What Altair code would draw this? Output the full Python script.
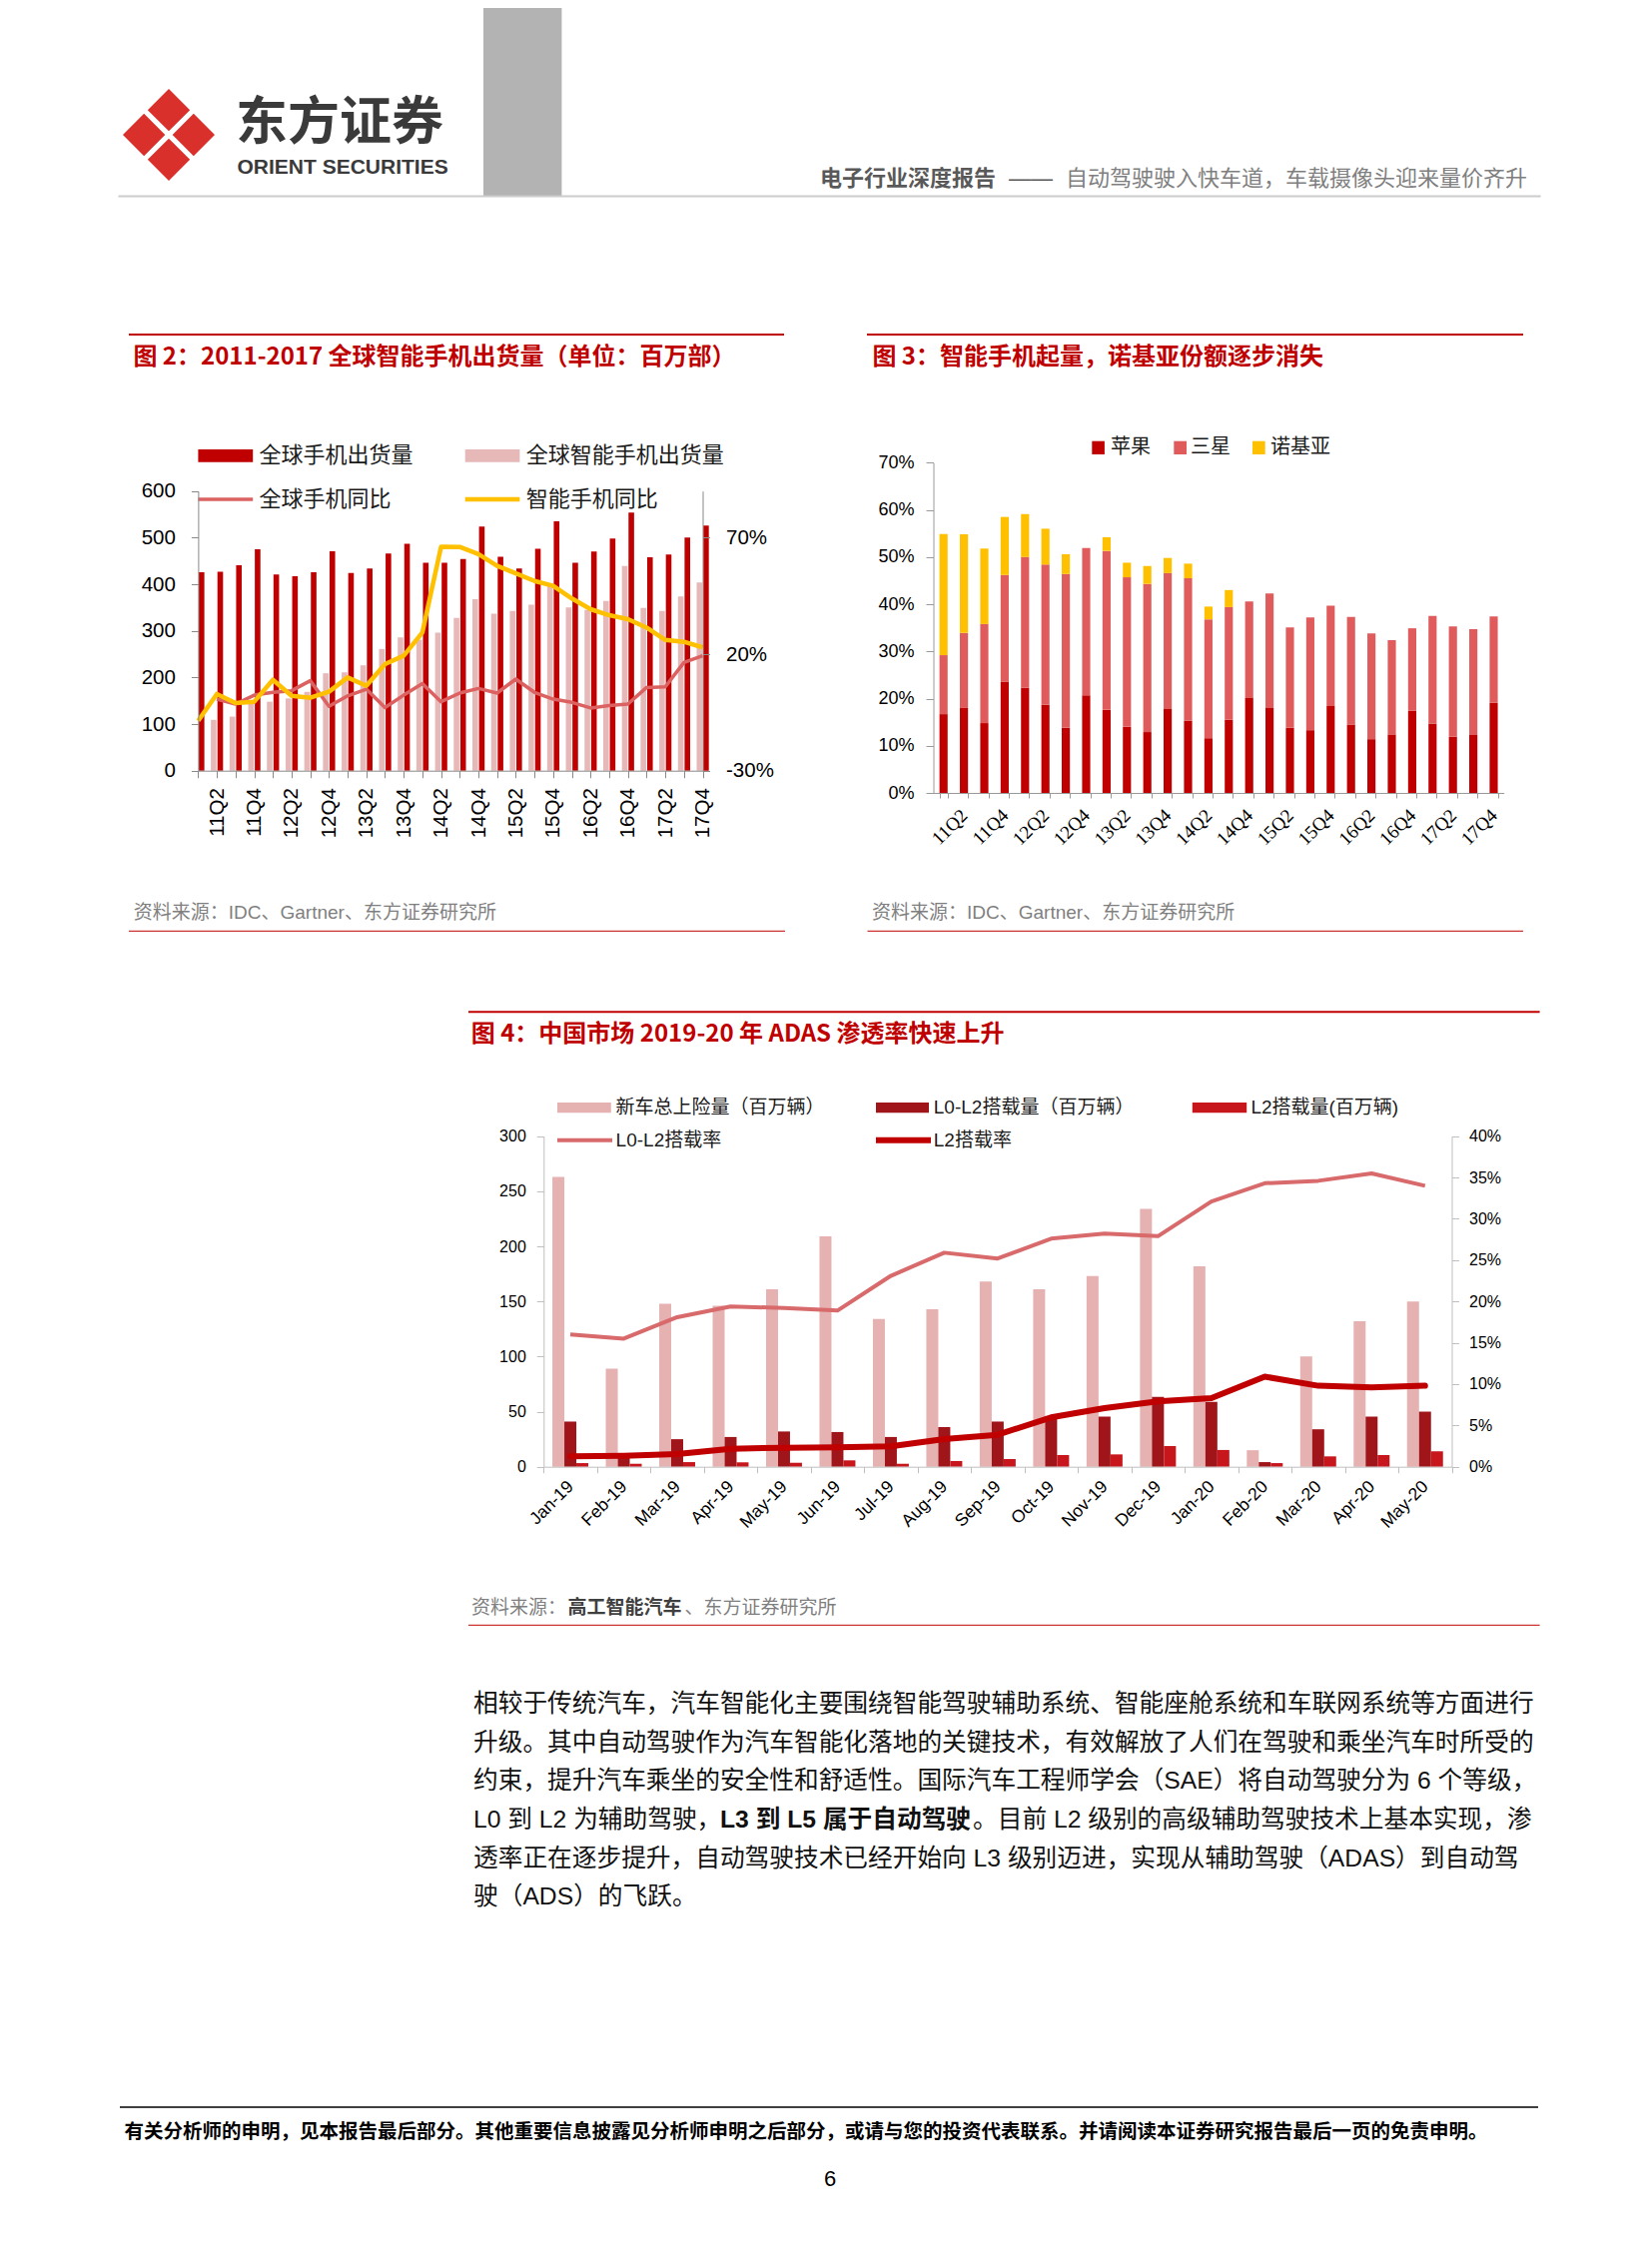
import altair as alt
import pandas as pd

W, H = 1600, 2200
PAGE = 8

def px(v):
    return v - PAGE

CJK = "Noto Sans CJK SC"
SANS = "Liberation Sans, Arial, Noto Sans CJK SC, sans-serif"
SERIF = "Liberation Serif, Times New Roman, Noto Sans CJK SC, serif"
RED = "#C00000"

# ---------------- data: figure 2 ----------------
quarters = ["11Q1", "11Q2", "11Q3", "11Q4", "12Q1", "12Q2", "12Q3", "12Q4",
            "13Q1", "13Q2", "13Q3", "13Q4", "14Q1", "14Q2", "14Q3", "14Q4",
            "15Q1", "15Q2", "15Q3", "15Q4", "16Q1", "16Q2", "16Q3", "16Q4",
            "17Q1", "17Q2", "17Q3", "17Q4"]
phone_ship = [426, 427, 441, 475, 421, 417, 426, 471, 424, 434, 466, 487, 446, 446,
              454, 524, 459, 434, 476, 535, 446, 470, 498, 554, 458, 464, 500, 526]
smart_ship = [None, 109, 116, 143, 148, 155, 169, 209, 211, 226, 261, 286, 281, 296,
              328, 368, 337, 343, 356, 398, 350, 345, 364, 439, 349, 343, 374, 404]
phone_yoy = [None, 0.7, -1.4, 2.4, 3.6, 4.3, 8.6, -2.4, 2.1, 5.0, -2.9, 2.4, 7.4, -0.4,
             3.3, 5.3, 3.3, 9.3, 3.6, 0.7, -0.7, -3.1, -2.1, -1.4, 5.7, 6.0, 16.4, 19.3]
smart_yoy = [-8.6, 2.9, -1.0, -0.4, 9.0, 2.1, 1.3, 3.9, 10.0, 6.4, 15.7, 19.3, 29.3, 66.1,
             66.0, 62.9, 57.9, 54.7, 51.4, 49.3, 43.9, 39.3, 36.7, 35.0, 31.4, 26.1, 25.3, 22.9]

# ---------------- data: figure 3 ----------------
brands = ["苹果", "三星", "诺基亚"]
apple = [16.7, 18.0, 14.8, 23.6, 22.3, 18.7, 13.8, 20.7, 17.6, 14.0, 12.9, 17.8, 15.3, 11.6,
         15.5, 20.1, 18.0, 13.8, 13.3, 18.4, 14.5, 11.4, 12.4, 17.4, 14.7, 11.9, 12.3, 19.1]
samsung = [12.5, 15.9, 21.0, 22.6, 27.7, 29.7, 32.6, 31.2, 33.7, 31.7, 31.4, 28.8, 30.2, 25.2,
           23.9, 20.5, 24.3, 21.3, 23.9, 21.3, 22.8, 22.4, 20.0, 17.5, 22.8, 23.4, 22.4, 18.3]
nokia = [25.7, 20.9, 16.0, 12.3, 9.1, 7.6, 4.2, 0, 2.9, 3.1, 3.8, 3.2, 3.1, 2.7,
         3.6, 0, 0, 0, 0, 0, 0, 0, 0, 0, 0, 0, 0, 0]

# ---------------- data: figure 4 ----------------
months = ["Jan-19", "Feb-19", "Mar-19", "Apr-19", "May-19", "Jun-19", "Jul-19", "Aug-19",
          "Sep-19", "Oct-19", "Nov-19", "Dec-19", "Jan-20", "Feb-20", "Mar-20", "Apr-20", "May-20"]
series4 = ["新车总上险量", "L0-L2搭载量", "L2搭载量"]
new_cars = [263, 89, 148, 146, 161, 209, 134, 143, 168, 161, 173, 234, 182, 15, 100, 132, 150]
l0l2_units = [41, 12, 25, 27, 32, 31.5, 27, 36, 41, 46, 45.5, 63.5, 58.8, 4.2, 34, 45.5, 50]
l2_units = [3.3, 2.7, 4.2, 4.0, 3.6, 5.8, 2.7, 5.2, 7.0, 10.6, 11.2, 18.8, 15.2, 3.3, 9.4, 10.6, 14.0]
l0l2_rate = [16.0, 15.5, 18.1, 19.4, 19.2, 18.9, 23.1, 25.9, 25.2, 27.6, 28.2, 27.9, 32.1,
             34.3, 34.6, 35.5, 34.0]
l2_rate = [1.26, 1.33, 1.53, 2.18, 2.3, 2.34, 2.46, 3.35, 3.87, 5.97, 7.1, 7.9, 8.3,
           10.9, 9.8, 9.6, 9.8]

# ---------------- helpers ----------------
BLANK = alt.Data(values=[{"v": 0}])


def text(s, x, y, size, color="#000000", weight="normal", align="left", font=CJK,
         baseline="middle"):
    return alt.Chart(BLANK).mark_text(
        text=s, align=align, baseline=baseline, fontSize=size, font=font,
        fontWeight=weight, color=color
    ).encode(x=alt.value(px(x)), y=alt.value(px(y)))


def rect(x1, x2, y1, y2, color):
    return alt.Chart(BLANK).mark_rect(color=color).encode(
        x=alt.value(px(x1)), x2=alt.value(px(x2)), y=alt.value(px(y1)), y2=alt.value(px(y2)))


def hline(x1, x2, y, color, w):
    return alt.Chart(BLANK).mark_rule(color=color, strokeWidth=w).encode(
        x=alt.value(px(x1)), x2=alt.value(px(x2)), y=alt.value(px(y)))


def axis(orient, pos, **kw):
    if orient == "left":
        off = -px(pos)
    elif orient == "right":
        off = px(pos) - W
    else:
        off = px(pos) - H
    base = dict(orient=orient, offset=off, title=None, grid=False, zindex=1,
                labelOverlap=False, labelFlush=False, domainColor="#898989",
                tickColor="#898989", labelColor="#000000", labelFont=SANS)
    base.update(kw)
    return alt.Axis(**base)


QLABEL = "(indexof(datum.label, 'Q2') >= 0 || indexof(datum.label, 'Q4') >= 0) ? datum.label : ''"

# ---------------- page decoration ----------------
logo_path = ("M0,-1 L0.46,-0.54 L0,-0.08 L-0.46,-0.54 Z "
             "M0.54,-0.46 L1,0 L0.54,0.46 L0.08,0 Z "
             "M0,1 L0.46,0.54 L0,0.08 L-0.46,0.54 Z "
             "M-0.54,-0.46 L-0.08,0 L-0.54,0.46 L-1,0 Z")
logo = alt.Chart(BLANK).mark_point(shape=logo_path, filled=True, size=8464, color="#D9302C",
                                   opacity=1, strokeWidth=0).encode(
    x=alt.value(px(169)), y=alt.value(px(135)))

decor = [
    rect(484, 562.4, 8, 196.5, "#B3B3B3"),
    logo,
    text("东方证券", 236, 123.5, 52, color="#3A3A3A", weight="bold"),
    text("ORIENT SECURITIES", 237.5, 167.5, 21, color="#3A3A3A", weight="bold", font=SANS),
    text("电子行业深度报告", 997, 179, 22, color="#595959", weight="bold", align="right"),
    text("——", 1032, 179, 22, color="#595959", align="center", font=SANS),
    text("自动驾驶驶入快车道，车载摄像头迎来量价齐升", 1529, 179, 22, color="#7F7F7F", align="right"),
    hline(118.5, 1542.6, 196.5, "#CCCCCC", 2),
    # figure titles
    hline(129, 785, 335, RED, 2),
    text("图 2：2011-2017 全球智能手机出货量（单位：百万部）", 133.4, 357.5, 24, color=RED, weight="bold"),
    hline(868, 1525, 335, RED, 2),
    text("图 3：智能手机起量，诺基亚份额逐步消失", 873.4, 357.5, 24, color=RED, weight="bold"),
    # sources
    text("资料来源：IDC、Gartner、东方证券研究所", 133.8, 914, 19, color="#7F7F7F", font=SANS),
    hline(129, 786, 932.3, RED, 1),
    text("资料来源：IDC、Gartner、东方证券研究所", 873, 914, 19, color="#7F7F7F", font=SANS),
    hline(868.5, 1525, 932.3, RED, 1),
    hline(469, 1541.6, 1013.3, RED, 2),
    text("图 4：中国市场 2019-20 年 ADAS 渗透率快速上升", 471.7, 1036, 24, color=RED, weight="bold"),
    text("资料来源：", 472, 1610, 19, color="#7F7F7F"),
    text("高工智能汽车", 568.4, 1610, 19, color="#404040", weight="bold"),
    text("、东方证券研究所", 685.5, 1610, 19, color="#7F7F7F"),
    hline(469, 1541.6, 1627.3, RED, 1),
    # legend fig 2
    rect(198.4, 253.2, 450, 462.7, "#C00000"),
    text("全球手机出货量", 259.5, 456, 22, color="#1A1A1A"),
    rect(465.7, 520.4, 450, 462.7, "#E6B9B8"),
    text("全球智能手机出货量", 526.7, 456, 22, color="#1A1A1A"),
    hline(198.4, 253.2, 500, "#DC6262", 3.5),
    text("全球手机同比", 259.5, 500, 22, color="#1A1A1A"),
    hline(465.7, 520.4, 500, "#FFC000", 4.5),
    text("智能手机同比", 526.7, 500, 22, color="#1A1A1A"),
    # legend fig 3
    rect(1093.3, 1105.9, 441.7, 455, "#C00000"),
    text("苹果", 1112, 448.3, 20, color="#1A1A1A"),
    rect(1175.3, 1188, 441.7, 455, "#E05C5C"),
    text("三星", 1192, 448.3, 20, color="#1A1A1A"),
    rect(1254, 1266.7, 441.7, 455, "#FFC000"),
    text("诺基亚", 1272, 448.3, 20, color="#1A1A1A"),
    # legend fig 4
    rect(558, 611.8, 1104, 1114.3, "#E6B1B1"),
    text("新车总上险量（百万辆）", 616.6, 1109, 19, color="#1A1A1A", font=SANS),
    rect(877, 930, 1104, 1114.3, "#A0151A"),
    text("L0-L2搭载量（百万辆）", 934.8, 1109, 19, color="#1A1A1A", font=SANS),
    rect(1193.8, 1248.2, 1104, 1114.3, "#C8161D"),
    text("L2搭载量(百万辆)", 1252.4, 1109, 19, color="#1A1A1A", font=SANS),
    hline(558, 613, 1141.7, "#D86A6C", 4),
    text("L0-L2搭载率", 616.6, 1141.7, 19, color="#1A1A1A", font=SANS),
    hline(877, 932, 1141.7, "#C00000", 6),
    text("L2搭载率", 934.8, 1141.7, 19, color="#1A1A1A", font=SANS),
    # body paragraph
    text("相较于传统汽车，汽车智能化主要围绕智能驾驶辅助系统、智能座舱系统和车联网系统等方面进行",
         474, 1707, 24.7, color="#111111", font=SANS),
    text("升级。其中自动驾驶作为汽车智能化落地的关键技术，有效解放了人们在驾驶和乘坐汽车时所受的",
         474, 1745.6, 24.7, color="#111111", font=SANS),
    text("约束，提升汽车乘坐的安全性和舒适性。国际汽车工程师学会（SAE）将自动驾驶分为 6 个等级，",
         474, 1784.2, 24.7, color="#111111", font=SANS),
    text("L0 到 L2 为辅助驾驶，", 474, 1822.9, 24.7, color="#111111", font=SANS),
    text("L3 到 L5 属于自动驾驶", 721, 1822.9, 24.7, color="#111111", font=SANS, weight="bold"),
    text("。目前 L2 级别的高级辅助驾驶技术上基本实现，渗", 974, 1822.9, 24.7, color="#111111", font=SANS),
    text("透率正在逐步提升，自动驾驶技术已经开始向 L3 级别迈进，实现从辅助驾驶（ADAS）到自动驾",
         474, 1861.5, 24.7, color="#111111", font=SANS),
    text("驶（ADS）的飞跃。", 474, 1900.1, 24.7, color="#111111", font=SANS),
    # footer
    hline(120, 1540, 2110, "#404040", 2),
    text("有关分析师的申明，见本报告最后部分。其他重要信息披露见分析师申明之后部分，或请与您的投资代表联系。并请阅读本证券研究报告最后一页的免责申明。",
         124.5, 2135, 19.5, color="#000000", weight="bold"),
    text("6", 831, 2182, 22, color="#000000", font=SANS, align="center"),
]

# ---------------- figure 2 ----------------
df2 = pd.DataFrame({"q": quarters, "phone": phone_ship, "smart": smart_ship,
                    "phone_yoy": phone_yoy, "smart_yoy": smart_yoy})
x2 = alt.X("q:N", sort=quarters,
           scale=alt.Scale(type="point", domain=quarters, range=[px(198.4), px(703.5)], padding=0),
           axis=axis("bottom", 771.7, labelAngle=270, labelFontSize=20.5, labelPadding=10,
                     tickSize=7, labelExpr=QLABEL))
ys2 = alt.Scale(domain=[0, 600], range=[px(771.7), px(491.7)], nice=False)
ax_l2 = axis("left", 198.4, values=[0, 100, 200, 300, 400, 500, 600], labelFontSize=20.5,
             tickSize=7, labelPadding=16)
yr2 = alt.Scale(domain=[-30, 90], range=[px(771.7), px(491.7)], nice=False, zero=False)
ax_r2 = axis("right", 703.5, values=[-30, 20, 70], labelFontSize=20.5, tickSize=7,
             labelPadding=16, labelExpr="datum.value + '%'")

bars2 = alt.layer(
    alt.Chart(df2).mark_bar(color="#E6B9B8", width=5.6, xOffset=-3.2).encode(
        x=x2, y=alt.Y("smart:Q", scale=ys2, axis=ax_l2)),
    alt.Chart(df2).mark_bar(color="#C00000", width=5.6, xOffset=3.4).encode(
        x=x2, y=alt.Y("phone:Q", scale=ys2, axis=ax_l2)),
)
lines2 = alt.layer(
    alt.Chart(df2).mark_line(color="#DC6262", strokeWidth=3.5, strokeJoin="round").encode(
        x=x2, y=alt.Y("phone_yoy:Q", scale=yr2, axis=ax_r2)),
    alt.Chart(df2).mark_line(color="#FFC000", strokeWidth=4.5, strokeJoin="round").encode(
        x=x2, y=alt.Y("smart_yoy:Q", scale=yr2, axis=ax_r2)),
)
chart2 = alt.layer(bars2, lines2).resolve_scale(y="independent")

# ---------------- figure 3 ----------------
rows3 = []
for i, q in enumerate(quarters):
    rows3.append({"q": q, "brand": "苹果", "k": 0, "share": apple[i]})
    rows3.append({"q": q, "brand": "三星", "k": 1, "share": samsung[i]})
    rows3.append({"q": q, "brand": "诺基亚", "k": 2, "share": nokia[i]})
df3 = pd.DataFrame(rows3)

chart3 = alt.Chart(df3).mark_bar().encode(
    x=alt.X("q:N", sort=quarters,
            scale=alt.Scale(type="band", domain=quarters, range=[px(934.5), px(1505.7)],
                            paddingInner=0.6, paddingOuter=0.3),
            axis=axis("bottom", 794, tickBand="extent", labelAngle=315, labelAlign="right",
                      labelBaseline="middle", labelFont=SERIF, labelFontSize=19,
                      labelPadding=14, tickSize=5, labelExpr=QLABEL,
                      domainColor="#9A9A9A", tickColor="#9A9A9A")),
    y=alt.Y("share:Q", stack="zero",
            scale=alt.Scale(domain=[0, 70], range=[px(794), px(463.3)], nice=False),
            axis=axis("left", 934.5, values=[0, 10, 20, 30, 40, 50, 60, 70],
                      labelExpr="datum.value + '%'", labelFontSize=18, tickSize=7.5,
                      labelPadding=12, domainColor="#9A9A9A", tickColor="#9A9A9A")),
    color=alt.Color("brand:N", scale=alt.Scale(domain=brands,
                                               range=["#C00000", "#E05C5C", "#FFC000"]),
                    legend=None),
    order=alt.Order("k:Q", sort="ascending"),
)

# ---------------- figure 4 ----------------
rows4 = []
for i, m in enumerate(months):
    rows4.append({"m": m, "s": series4[0], "val": new_cars[i]})
    rows4.append({"m": m, "s": series4[1], "val": l0l2_units[i]})
    rows4.append({"m": m, "s": series4[2], "val": l2_units[i]})
df4 = pd.DataFrame(rows4)
df4l = pd.DataFrame({"m": months, "r1": l0l2_rate, "r2": l2_rate})

x4 = alt.X("m:N", sort=months,
           scale=alt.Scale(type="band", domain=months, range=[px(544.3), px(1453.5)],
                           paddingInner=0, paddingOuter=0),
           axis=axis("bottom", 1468.7, tickBand="extent", labelAngle=315, labelAlign="right",
                     labelBaseline="middle", labelFontSize=17.5, labelPadding=11, tickSize=6,
                     domainColor="#BFBFBF", tickColor="#BFBFBF"))
ys4 = alt.Scale(domain=[0, 300], range=[px(1468.7), px(1137.7)], nice=False)
ax_l4 = axis("left", 544.3, values=[0, 50, 100, 150, 200, 250, 300], labelFontSize=16,
             tickSize=7, labelPadding=11, domainColor="#BFBFBF", tickColor="#BFBFBF")
yr4 = alt.Scale(domain=[0, 40], range=[px(1468.7), px(1137.7)], nice=False)
ax_r4 = axis("right", 1453.5, values=[0, 5, 10, 15, 20, 25, 30, 35, 40], labelFontSize=16,
             tickSize=7, labelPadding=10, labelExpr="datum.value + '%'",
             domainColor="#BFBFBF", tickColor="#BFBFBF")

bars4 = alt.Chart(df4).mark_bar().encode(
    x=x4,
    xOffset=alt.XOffset("s:N", sort=series4,
                        scale=alt.Scale(domain=series4, paddingInner=0, paddingOuter=0.73)),
    y=alt.Y("val:Q", scale=ys4, axis=ax_l4),
    color=alt.Color("s:N", scale=alt.Scale(domain=series4,
                                           range=["#E6B1B1", "#A0151A", "#C8161D"]),
                    legend=None),
)
lines4 = alt.layer(
    alt.Chart(df4l).mark_line(color="#D86A6C", strokeWidth=4, strokeJoin="round").encode(
        x=x4, y=alt.Y("r1:Q", scale=yr4, axis=ax_r4)),
    alt.Chart(df4l).mark_line(color="#C00000", strokeWidth=6, strokeJoin="round",
                              strokeCap="round").encode(
        x=x4, y=alt.Y("r2:Q", scale=yr4, axis=ax_r4)),
)
chart4 = alt.layer(bars4, lines4).resolve_scale(y="independent")

chart = alt.layer(*decor, chart2, chart3, chart4).resolve_scale(
    x="independent", y="independent", color="independent"
).properties(
    width=W, height=H, padding=0, background="white",
    autosize=alt.AutoSizeParams(type="none")
).configure_view(strokeWidth=0, stroke=None)

chart.save("out.html", embed_options={"renderer": "svg", "actions": False})
